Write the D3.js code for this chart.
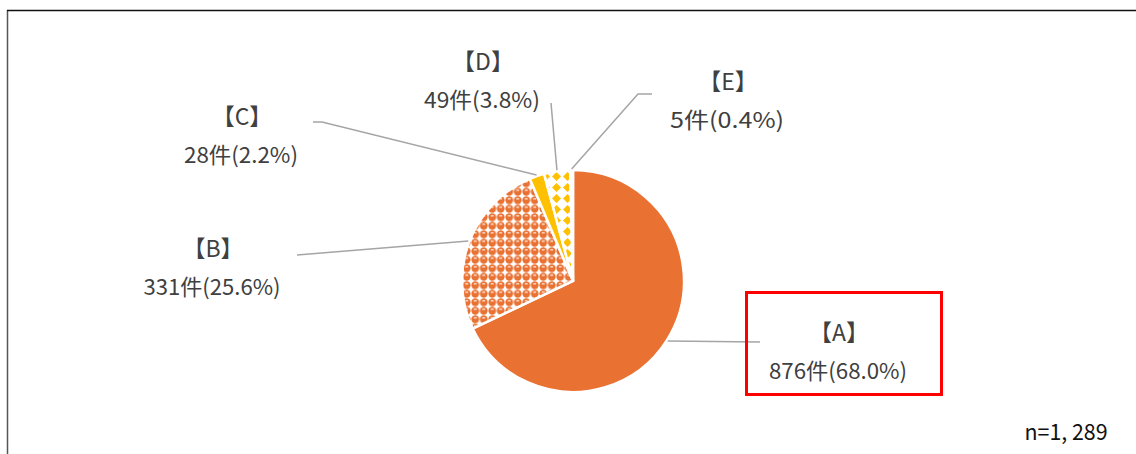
<!DOCTYPE html>
<html><head><meta charset="utf-8">
<script src="https://cdn.jsdelivr.net/npm/d3@7"></script>
<style>
html,body{margin:0;padding:0;background:#fff;}
svg{display:block;}
text{font-family:"Noto Sans CJK JP","Noto Sans",sans-serif;fill:#404040;}
</style></head>
<body>
<svg id="chart" width="1136" height="454"></svg>
<script>
// ---- data ----
const categories = ["A", "B", "C", "D", "E"];
const counts = [876, 331, 28, 49, 5];
const percents = ["68.0", "25.6", "2.2", "3.8", "0.4"];
const totalLabel = "n=1, 289";

// ---- layout (not data) ----
const fills = ["#E97132", "url(#patB)", "#FFC000", "url(#patD)", "url(#patE)"];
const labelPos = [ // center x, baseline of first line, width of second line
  {x: 839, y: 341, w2: 138},
  {x: 213, y: 257, w2: 137},
  {x: 242, y: 125, w2: 114},
  {x: 483, y: 70, w2: 116},
  {x: 728, y: 90, w2: 114}
];
const leaderPts = [
  [[760, 342]],
  [[297, 255]],
  [[313, 122], [322, 122]],
  [[551, 103]],
  [[652, 94], [638, 94]]
];

const svg = d3.select("#chart");
const defs = svg.append("defs");

// B pattern: orange spheres
const pB = defs.append("pattern").attr("id", "patB").attr("patternUnits", "userSpaceOnUse")
  .attr("width", 8.5).attr("height", 8.5);
pB.append("rect").attr("width", 8.5).attr("height", 8.5).attr("fill", "#fff");
pB.append("circle").attr("cx", 4.25).attr("cy", 4.25).attr("r", 3.9).attr("fill", "#E97132");
pB.append("rect").attr("x", 2.7).attr("y", 2.2).attr("width", 3).attr("height", 1.1).attr("fill", "#fff");

// D pattern: yellow diamonds
const pD = defs.append("pattern").attr("id", "patD").attr("patternUnits", "userSpaceOnUse")
  .attr("width", 11).attr("height", 11);
pD.append("rect").attr("width", 11).attr("height", 11).attr("fill", "#fff");
pD.append("path").attr("d", "M5.5,1 L10,5.5 L5.5,10 L1,5.5 Z").attr("fill", "#FFC000");

// E pattern: sparse yellow dots
const pE = defs.append("pattern").attr("id", "patE").attr("patternUnits", "userSpaceOnUse")
  .attr("width", 6).attr("height", 6);
pE.append("rect").attr("width", 6).attr("height", 6).attr("fill", "#fff");
pE.append("rect").attr("x", 2).attr("y", 2).attr("width", 2).attr("height", 2).attr("fill", "#FFC000");

// frame
svg.append("line").attr("x1", 7.5).attr("y1", 10).attr("x2", 7.5).attr("y2", 454)
  .attr("stroke", "#555").attr("stroke-width", 1.5);
svg.append("line").attr("x1", 7).attr("y1", 10.5).attr("x2", 1136).attr("y2", 10.5)
  .attr("stroke", "#111").attr("stroke-width", 1.5);

const cx = 573, cy = 281, r = 111;
const pie = d3.pie().sort(null).value(d => d)(counts);
const arc = d3.arc().innerRadius(0).outerRadius(r);
const g = svg.append("g").attr("transform", `translate(${cx},${cy})`);
g.selectAll("path").data(pie).join("path")
  .attr("d", arc)
  .attr("fill", (d, i) => fills[i])
  .attr("stroke", "#fff").attr("stroke-width", 2.5).attr("stroke-linejoin", "miter");

// leader lines
const edgeArc = d3.arc().innerRadius(r + 1).outerRadius(r + 1);
pie.forEach((d, i) => {
  const c = edgeArc.centroid(d);
  const pts = leaderPts[i].concat([[cx + c[0], cy + c[1]]]);
  svg.append("path").attr("d", d3.line()(pts))
    .attr("fill", "none").attr("stroke", "#A5A5A5").attr("stroke-width", 1.5);
});

// red box around A
svg.append("rect").attr("x", 746.5).attr("y", 292.5).attr("width", 195).attr("height", 102)
  .attr("fill", "none").attr("stroke", "#FF0000").attr("stroke-width", 3);

// labels
categories.forEach((c, i) => {
  const p = labelPos[i];
  svg.append("text").attr("x", p.x).attr("y", p.y).attr("text-anchor", "middle")
    .attr("font-size", 23)
    .text(`【${c}】`);
  svg.append("text").attr("x", p.x - 1).attr("y", p.y + 38).attr("text-anchor", "middle")
    .attr("font-size", 22)
    .attr("textLength", p.w2).attr("lengthAdjust", "spacingAndGlyphs")
    .text(`${counts[i]}件(${percents[i]}%)`);
});

svg.append("text").attr("x", 1066).attr("y", 440).attr("text-anchor", "middle")
  .attr("font-size", 22).attr("textLength", 83).attr("lengthAdjust", "spacingAndGlyphs")
  .style("fill", "#111").text(totalLabel);
</script>
</body></html>
